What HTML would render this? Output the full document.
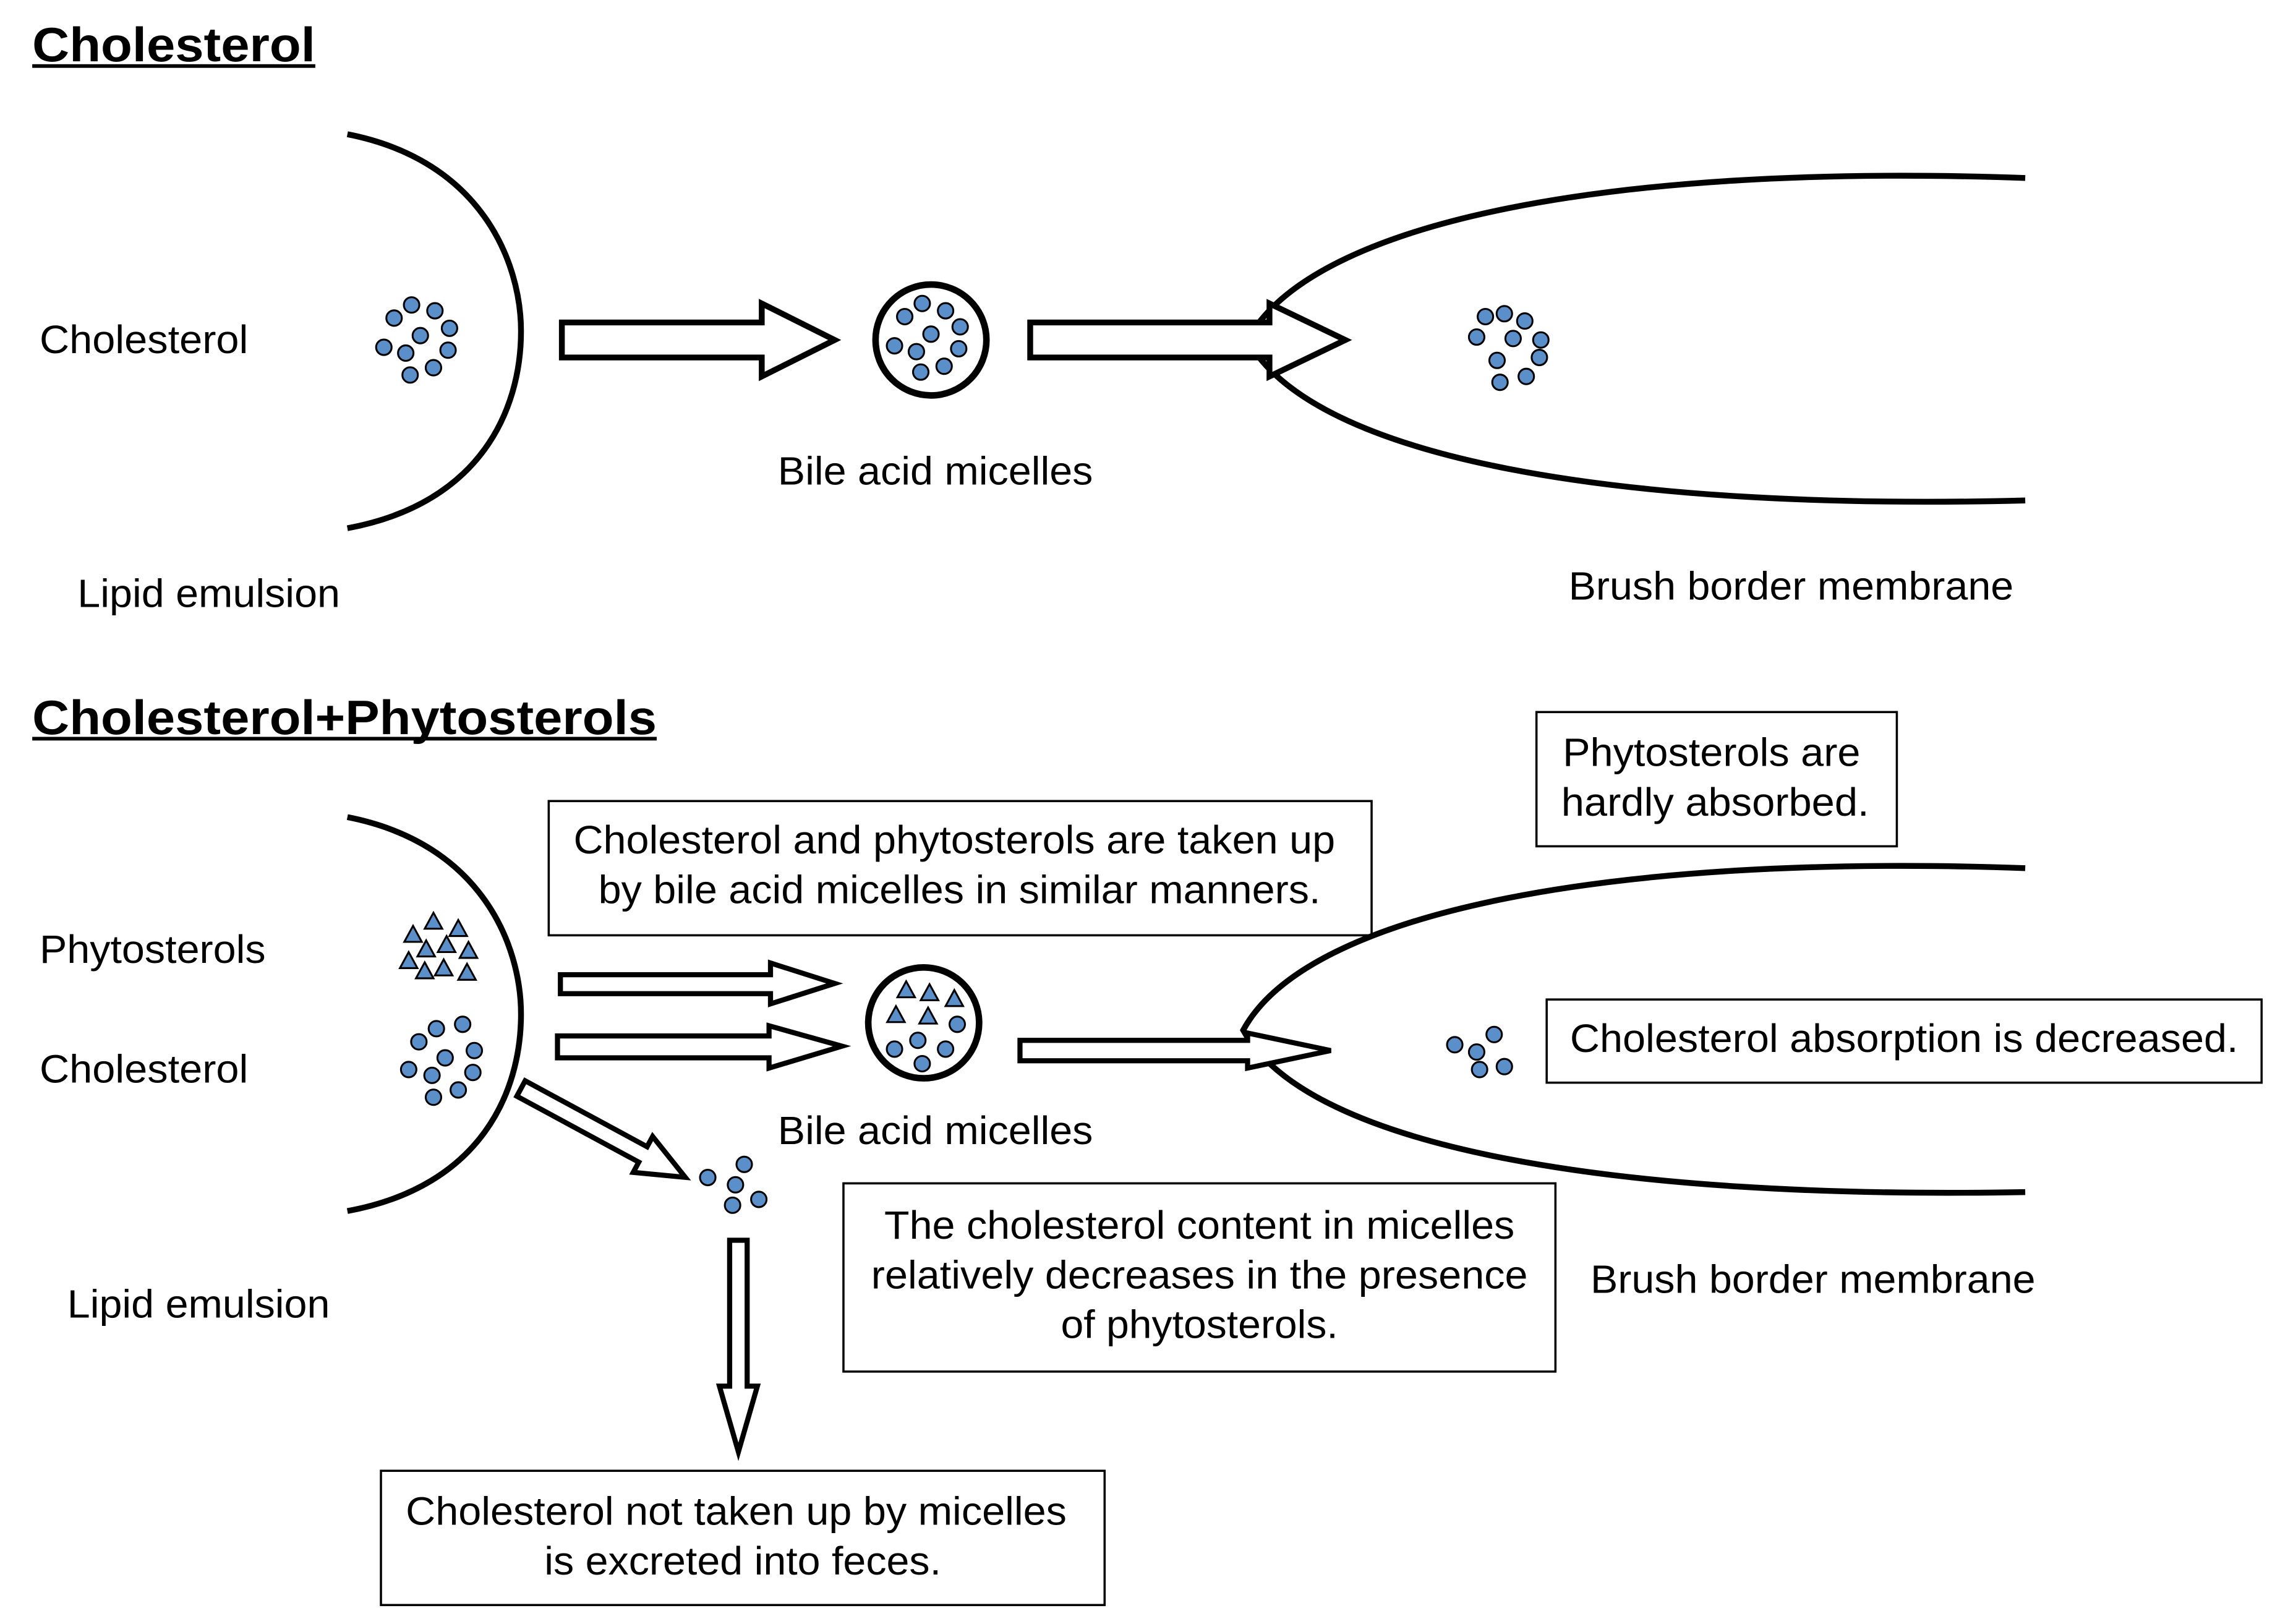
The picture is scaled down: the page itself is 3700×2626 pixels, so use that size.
<!DOCTYPE html>
<html><head><meta charset="utf-8"><style>html,body{margin:0;padding:0;background:#fff}svg{display:block}</style></head><body>
<svg width="3700" height="2626" viewBox="0 0 1568 1113" xmlns="http://www.w3.org/2000/svg" font-family="Liberation Sans, Arial, sans-serif">
<defs>
<circle id="d" r="5.3" fill="#5b8fc9" stroke="#000" stroke-width="1.3"/>
<polygon id="t" points="0,-6.5 6,4.5 -6,4.5" fill="#5b8fc9" stroke="#000" stroke-width="1.3"/>
</defs>
<rect width="1568" height="1113" fill="#fff"/>
<!-- Section 1 -->
<text x="22" y="42" font-size="33" font-weight="bold" textLength="194" lengthAdjust="spacingAndGlyphs">Cholesterol</text>
<rect x="22" y="44" width="194" height="2.5" fill="#000"/>
<path d="M238,92 C330,110 357,180 357,227 C357,280 330,345 238,362" fill="none" stroke="#000" stroke-width="4"/>
<text x="27" y="242" font-size="27" textLength="143" lengthAdjust="spacingAndGlyphs">Cholesterol</text>
<g>
<use href="#d" x="282" y="209"/><use href="#d" x="298" y="213"/><use href="#d" x="270" y="218"/><use href="#d" x="308" y="225"/><use href="#d" x="288" y="230"/><use href="#d" x="263" y="238"/><use href="#d" x="278" y="242"/><use href="#d" x="307" y="240"/><use href="#d" x="297" y="252"/><use href="#d" x="281" y="257"/>
</g>
<polygon points="385,221 522,221 522,208 572,233 522,258 522,245 385,245" fill="#fff" stroke="#000" stroke-width="4"/>
<circle cx="638" cy="233" r="38" fill="#fff" stroke="#000" stroke-width="4.5"/>
<use href="#d" x="632" y="208"/><use href="#d" x="648" y="213"/><use href="#d" x="620" y="217"/><use href="#d" x="658" y="224"/><use href="#d" x="638" y="229"/><use href="#d" x="613" y="237"/><use href="#d" x="628" y="241"/><use href="#d" x="657" y="239"/><use href="#d" x="647" y="251"/><use href="#d" x="631" y="255"/>
<text x="533" y="332" font-size="27" textLength="216" lengthAdjust="spacingAndGlyphs">Bile acid micelles</text>
<path d="M1388,122 C1110,112 900,150 855,233 C900,315 1110,350 1388,343" fill="none" stroke="#000" stroke-width="4"/>
<polygon points="706,221 870,221 870,208 922,233 870,258 870,245 706,245" fill="#fff" stroke="#000" stroke-width="4"/>
<use href="#d" x="1018" y="217"/><use href="#d" x="1031" y="215"/><use href="#d" x="1045" y="220"/><use href="#d" x="1012" y="231"/><use href="#d" x="1037" y="232"/><use href="#d" x="1056" y="233"/><use href="#d" x="1026" y="247"/><use href="#d" x="1055" y="245"/><use href="#d" x="1046" y="258"/><use href="#d" x="1028" y="262"/>
<text x="53" y="416" font-size="27" textLength="180" lengthAdjust="spacingAndGlyphs">Lipid emulsion</text>
<text x="1075" y="411" font-size="27" textLength="305" lengthAdjust="spacingAndGlyphs">Brush border membrane</text>
<!-- Section 2 -->
<text x="22" y="503" font-size="33" font-weight="bold" textLength="428" lengthAdjust="spacingAndGlyphs">Cholesterol+Phytosterols</text>
<rect x="22" y="505" width="428" height="2.5" fill="#000"/>
<path d="M238,560 C330,578 357,648 357,695 C357,748 330,813 238,830" fill="none" stroke="#000" stroke-width="4"/>
<text x="27" y="660" font-size="27" textLength="155" lengthAdjust="spacingAndGlyphs">Phytosterols</text>
<text x="27" y="742" font-size="27" textLength="143" lengthAdjust="spacingAndGlyphs">Cholesterol</text>
<use href="#t" x="297" y="632"/><use href="#t" x="314" y="637"/><use href="#t" x="283" y="641"/><use href="#t" x="292" y="651"/><use href="#t" x="306" y="648"/><use href="#t" x="321" y="652"/><use href="#t" x="280" y="659"/><use href="#t" x="291" y="666"/><use href="#t" x="304" y="664"/><use href="#t" x="320" y="667"/>
<use href="#d" x="317" y="702"/><use href="#d" x="299" y="705"/><use href="#d" x="287" y="714"/><use href="#d" x="325" y="720"/><use href="#d" x="305" y="725"/><use href="#d" x="280" y="733"/><use href="#d" x="324" y="735"/><use href="#d" x="296" y="737"/><use href="#d" x="314" y="747"/><use href="#d" x="297" y="752"/>
<rect x="376" y="549" width="564" height="92" fill="#fff" stroke="#000" stroke-width="1.5"/>
<text x="393" y="585" font-size="27" textLength="522" lengthAdjust="spacingAndGlyphs">Cholesterol and phytosterols are taken up</text>
<text x="410" y="619" font-size="27" textLength="495" lengthAdjust="spacingAndGlyphs">by bile acid micelles in similar manners.</text>
<polygon points="384,668 528,668 528,660 572,674 528,688 528,681 384,681" fill="#fff" stroke="#000" stroke-width="3.5"/>
<polygon points="382,710 527,710 527,703 577,717 527,732 527,725 382,725" fill="#fff" stroke="#000" stroke-width="3.5"/>
<circle cx="633" cy="701" r="38" fill="#fff" stroke="#000" stroke-width="4.5"/>
<use href="#t" x="621" y="679"/><use href="#t" x="637" y="681"/><use href="#t" x="654" y="685"/><use href="#t" x="614" y="696"/><use href="#t" x="636" y="697"/>
<use href="#d" x="656" y="702"/><use href="#d" x="629" y="713"/><use href="#d" x="613" y="719"/><use href="#d" x="648" y="719"/><use href="#d" x="632" y="729"/>
<text x="533" y="784" font-size="27" textLength="216" lengthAdjust="spacingAndGlyphs">Bile acid micelles</text>
<path d="M1388,595 C1110,585 897,623 852,706 C897,788 1110,822 1388,817" fill="none" stroke="#000" stroke-width="4"/>
<polygon points="699,713 855,713 855,708 912,720 855,732 855,727 699,727" fill="#fff" stroke="#000" stroke-width="3.5"/>
<use href="#d" x="997" y="716"/><use href="#d" x="1024" y="709"/><use href="#d" x="1012" y="721"/><use href="#d" x="1031" y="731"/><use href="#d" x="1014" y="733"/>
<rect x="1053" y="488" width="247" height="92" fill="#fff" stroke="#000" stroke-width="1.5"/>
<text x="1071" y="525" font-size="27" textLength="204" lengthAdjust="spacingAndGlyphs">Phytosterols are</text>
<text x="1070" y="559" font-size="27" textLength="211" lengthAdjust="spacingAndGlyphs">hardly absorbed.</text>
<rect x="1060" y="685" width="490" height="57" fill="#fff" stroke="#000" stroke-width="1.5"/>
<text x="1076" y="721" font-size="27" textLength="458" lengthAdjust="spacingAndGlyphs">Cholesterol absorption is decreased.</text>
<g transform="translate(357,746) rotate(28.4)">
<polygon points="0,-6 95,-6 95,-14 128,0 95,14 95,6 0,6" fill="#fff" stroke="#000" stroke-width="3.5"/>
</g>
<use href="#d" x="485" y="807"/><use href="#d" x="510" y="798"/><use href="#d" x="504" y="812"/><use href="#d" x="520" y="822"/><use href="#d" x="502" y="826"/>
<polygon points="500,850 512,850 512,950 519,950 506,995 493,950 500,950" fill="#fff" stroke="#000" stroke-width="3.5"/>
<rect x="578" y="811" width="488" height="129" fill="#fff" stroke="#000" stroke-width="1.5"/>
<text x="606" y="849" font-size="27" textLength="432" lengthAdjust="spacingAndGlyphs">The cholesterol content in micelles</text>
<text x="597" y="883" font-size="27" textLength="450" lengthAdjust="spacingAndGlyphs">relatively decreases in the presence</text>
<text x="727" y="917" font-size="27" textLength="190" lengthAdjust="spacingAndGlyphs">of phytosterols.</text>
<text x="46" y="903" font-size="27" textLength="180" lengthAdjust="spacingAndGlyphs">Lipid emulsion</text>
<text x="1090" y="886" font-size="27" textLength="305" lengthAdjust="spacingAndGlyphs">Brush border membrane</text>
<rect x="261" y="1008" width="496" height="92" fill="#fff" stroke="#000" stroke-width="1.5"/>
<text x="278" y="1045" font-size="27" textLength="453" lengthAdjust="spacingAndGlyphs">Cholesterol not taken up by micelles</text>
<text x="373" y="1079" font-size="27" textLength="272" lengthAdjust="spacingAndGlyphs">is excreted into feces.</text>
</svg>
</body></html>
